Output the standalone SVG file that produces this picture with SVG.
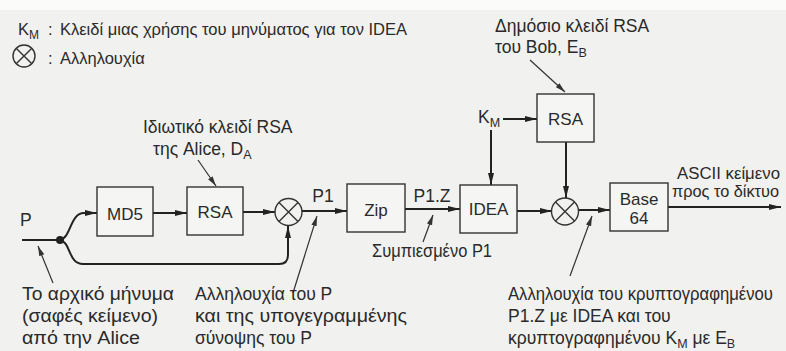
<svg xmlns="http://www.w3.org/2000/svg" width="786" height="351" viewBox="0 0 786 351">
<style>
text{font-family:"Liberation Sans",Arial,sans-serif;fill:#2a2a2a;}
.t{font-size:17.5px;}
.l{font-size:16.5px;}
.b{font-size:17px;text-anchor:middle;}
.box{fill:#f5f5f3;stroke:#333;stroke-width:1.4;}
.w{fill:none;stroke:#222;stroke-width:2;}
.p{fill:none;stroke:#333;stroke-width:1.2;}
.x{fill:none;stroke:#333;stroke-width:1.4;}
</style>
<defs>
<marker id="ah" markerUnits="userSpaceOnUse" markerWidth="13" markerHeight="8" refX="12" refY="4" orient="auto">
<path d="M0,1 L12,4 L0,7 z" fill="#222"/>
</marker>
<marker id="ahs" markerUnits="userSpaceOnUse" markerWidth="11" markerHeight="7" refX="10" refY="3.5" orient="auto">
<path d="M0,0.8 L10,3.5 L0,6.2 z" fill="#333"/>
</marker>
</defs>
<rect x="0" y="0" width="786" height="351" fill="#f1f1ef"/>
<rect x="0" y="0" width="786" height="10" fill="#fbfbfa"/>

<g id="legend">
<text x="18" y="35" class="l">K<tspan font-size="12" dy="4">M</tspan></text>
<text x="48" y="35" class="l">:</text>
<text x="60" y="35" class="l">Κλειδί μιας χρήσης του μηνύματος για τον IDEA</text>
<circle cx="24" cy="56" r="11" class="x"/>
<path d="M16.2,48.2 L31.8,63.8 M31.8,48.2 L16.2,63.8" class="x"/>
<text x="48" y="64" class="l">:</text>
<text x="60" y="64" class="l">Αλληλουχία</text>
</g>

<g id="connectors">
<path d="M22,240 L60,240" class="w"/>
<path d="M60,240 C71,238 70,213 84,213 L97,213" class="w" marker-end="url(#ah)"/>
<path d="M60,240 C71,242 68,264 83,264 L279,264 Q288,264 288,255 L288,226" class="w" marker-end="url(#ah)"/>
<path d="M153,213 L187,213" class="w" marker-end="url(#ah)"/>
<path d="M243,212 L275,212" class="w" marker-end="url(#ah)"/>
<path d="M302,211 L347,211" class="w" marker-end="url(#ah)"/>
<path d="M405,209 L460,209" class="w" marker-end="url(#ah)"/>
<path d="M517,211 L552,211" class="w" marker-end="url(#ah)"/>
<path d="M578,210 L610,210" class="w" marker-end="url(#ah)"/>
<path d="M668,207 L781,207" class="w" marker-end="url(#ah)"/>
<path d="M503,119 L537,119" class="w" marker-end="url(#ah)"/>
<path d="M491,130 L491,185" class="w" marker-end="url(#ah)"/>
<path d="M566,142 L566,198" class="w" marker-end="url(#ah)"/>
<path d="M530,60 L565,92" class="p" marker-end="url(#ahs)"/>
<path d="M198,160 L216,186" class="p" marker-end="url(#ahs)"/>
<path d="M53,283 L38,246" class="p" marker-end="url(#ahs)"/>
<path d="M293,293 L317,216" class="p" marker-end="url(#ahs)"/>
<path d="M423,242 L433,215" class="p" marker-end="url(#ahs)"/>
<path d="M570,276 L592,216" class="p" marker-end="url(#ahs)"/>
<circle cx="60" cy="240" r="4" fill="#222"/>
</g>

<g id="md5"><rect x="97" y="187" width="56" height="49" class="box"/><text x="125" y="220" class="b">MD5</text></g>
<g id="rsa1"><rect x="187" y="187" width="56" height="48" class="box"/><text x="215" y="218" class="b">RSA</text></g>
<g id="xor1"><circle cx="288.5" cy="212" r="13.5" class="x"/><path d="M279,202.5 L298,221.5 M298,202.5 L279,221.5" class="x"/></g>
<g id="zip"><rect x="347" y="184" width="58" height="48" class="box"/><text x="376" y="216" class="b">Zip</text></g>
<g id="idea"><rect x="460" y="185" width="57" height="48" class="box"/><text x="488.5" y="215" class="b">IDEA</text></g>
<g id="rsa2"><rect x="537" y="94" width="57" height="48" class="box"/><text x="565.5" y="125" class="b">RSA</text></g>
<g id="xor2"><circle cx="565" cy="211.5" r="13.5" class="x"/><path d="M555.5,202 L574.5,221 M574.5,202 L555.5,221" class="x"/></g>
<g id="base64"><rect x="610" y="183" width="58" height="48" class="box"/><text x="639" y="205" class="b">Base</text><text x="639" y="224" class="b">64</text></g>

<g id="labels">
<text x="20" y="226" class="t">P</text>
<text x="323" y="202" class="t" text-anchor="middle">P1</text>
<text x="432" y="202" class="t" text-anchor="middle">P1.Z</text>
<text x="478" y="123" class="t">K<tspan font-size="12.5" dy="4">M</tspan></text>
<text x="143" y="133" class="t">Ιδιωτικό κλειδί RSA</text>
<text x="153" y="155" class="t">της Alice, D<tspan font-size="12.5" dy="4">A</tspan></text>
<text x="495" y="32" class="t">Δημόσιο κλειδί RSA</text>
<text x="495" y="53" class="t">του Bob, E<tspan font-size="12.5" dy="4">B</tspan></text>
<text x="677" y="179" style="font-size:16px" textLength="103" lengthAdjust="spacingAndGlyphs">ASCII κείμενο</text>
<text x="672" y="197" style="font-size:16px" textLength="107" lengthAdjust="spacingAndGlyphs">προς το δίκτυο</text>
<text x="372" y="257" class="t" textLength="120" lengthAdjust="spacingAndGlyphs">Συμπιεσμένο P1</text>
<text x="22" y="300" class="t" textLength="152" lengthAdjust="spacingAndGlyphs">Το αρχικό μήνυμα</text>
<text x="22" y="322" class="t" textLength="136" lengthAdjust="spacingAndGlyphs">(σαφές κείμενο)</text>
<text x="22" y="344" class="t" textLength="118" lengthAdjust="spacingAndGlyphs">από την Alice</text>
<text x="195" y="300" class="t">Αλληλουχία του P</text>
<text x="195" y="322" class="t" textLength="212" lengthAdjust="spacingAndGlyphs">και της υπογεγραμμένης</text>
<text x="195" y="344" class="t">σύνοψης του P</text>
<text x="508" y="300" class="t" textLength="265" lengthAdjust="spacingAndGlyphs">Αλληλουχία του κρυπτογραφημένου</text>
<text x="508" y="322" class="t">P1.Z με IDEA και του</text>
<text x="508" y="344" class="t">κρυπτογραφημένου K<tspan font-size="12.5" dy="4">M</tspan><tspan dy="-4"> με E</tspan><tspan font-size="12.5" dy="4">B</tspan></text>
</g>
</svg>
